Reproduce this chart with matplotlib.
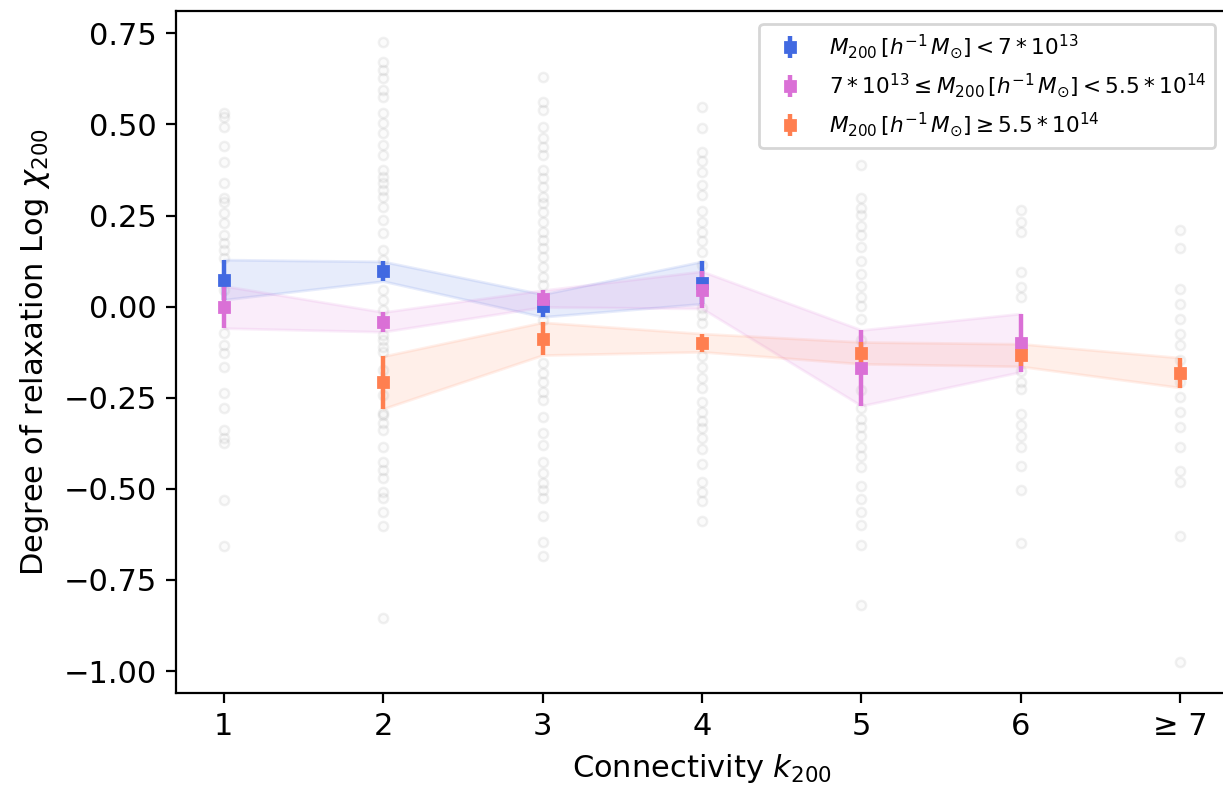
import numpy as np
import matplotlib.pyplot as plt

plt.rcParams['font.size'] = 11

# connectivity bins (last bin is k >= 7)
k_bins = [1, 2, 3, 4, 5, 6, 7]
k_labels = ['1', '2', '3', '4', '5', '6', '≥ 7']

# individual clusters, Log chi_200 per connectivity bin
chi_k1 = [0.530, 0.519, 0.494, 0.441, 0.397, 0.338, 0.297, 0.288, 0.256, 0.229,
          0.197, 0.174, 0.155, 0.133, 0.046, -0.073, -0.105, -0.128, -0.165,
          -0.238, -0.279, -0.339, -0.361, -0.373, -0.531, -0.656]
chi_k2 = [0.727, 0.672, 0.649, 0.627, 0.594, 0.576, 0.530, 0.503, 0.476, 0.443,
          0.416, 0.375, 0.356, 0.338, 0.320, 0.302, 0.274, 0.238, 0.201, 0.155,
          0.128, 0.100, 0.046, 0.018, -0.009, -0.078, -0.091, -0.110, -0.124,
          -0.174, -0.243, -0.293, -0.297, -0.320, -0.339, -0.384, -0.426,
          -0.448, -0.471, -0.508, -0.526, -0.563, -0.601, -0.855]
chi_k3 = [0.631, 0.562, 0.540, 0.494, 0.462, 0.439, 0.416, 0.375, 0.352, 0.329,
          0.302, 0.283, 0.260, 0.233, 0.206, 0.183, 0.160, 0.137, 0.110, 0.082,
          0.059, 0.018, -0.037, -0.155, -0.182, -0.206, -0.234, -0.256, -0.302,
          -0.348, -0.380, -0.426, -0.457, -0.485, -0.503, -0.526, -0.575,
          -0.645, -0.684]
chi_k4 = [0.548, 0.490, 0.424, 0.400, 0.369, 0.334, 0.306, 0.262, 0.232, 0.205,
          0.180, 0.150, 0.114, 0.046, -0.004, -0.024, -0.045, -0.136, -0.166,
          -0.196, -0.223, -0.262, -0.290, -0.314, -0.333, -0.361, -0.391,
          -0.432, -0.481, -0.509, -0.534, -0.588]
chi_k5 = [0.389, 0.298, 0.271, 0.252, 0.221, 0.196, 0.164, 0.125, 0.089, 0.057,
          0.026, 0.002, -0.034, -0.092, -0.229, -0.279, -0.309, -0.331, -0.355,
          -0.385, -0.410, -0.440, -0.492, -0.528, -0.564, -0.599, -0.654, -0.820]
chi_k6 = [0.265, 0.232, 0.205, 0.095, 0.054, 0.026, -0.177, -0.207, -0.226,
          -0.295, -0.325, -0.355, -0.385, -0.437, -0.503, -0.649]
chi_k7 = [0.210, 0.160, 0.048, 0.007, -0.034, -0.075, -0.105, -0.146, -0.207,
          -0.248, -0.289, -0.330, -0.385, -0.451, -0.481, -0.630, -0.975]
chi_all = [chi_k1, chi_k2, chi_k3, chi_k4, chi_k5, chi_k6, chi_k7]

# binned means and errors for the three mass bins
k_low = [1, 2, 3, 4]
mean_low = [0.074, 0.097, 0.003, 0.066]
err_low = [0.055, 0.027, 0.031, 0.058]

k_mid = [1, 2, 3, 4, 5, 6]
mean_mid = [-0.001, -0.042, 0.022, 0.046, -0.168, -0.099]
err_mid = [0.058, 0.027, 0.023, 0.051, 0.104, 0.080]

k_high = [2, 3, 4, 5, 6, 7]
mean_high = [-0.208, -0.088, -0.099, -0.127, -0.133, -0.181]
err_high = [0.072, 0.045, 0.025, 0.030, 0.031, 0.041]

labels = [r'$M_{200}\,[h^{-1}\,M_{\odot}] < 7*10^{13}$',
          r'$7*10^{13} \leq M_{200}\,[h^{-1}\,M_{\odot}] < 5.5*10^{14}$',
          r'$M_{200}\,[h^{-1}\,M_{\odot}] \geq 5.5*10^{14}$']
colors = ['royalblue', 'orchid', 'coral']

fig = plt.figure(figsize=(6.115, 3.955), dpi=200)
fig.subplots_adjust(left=0.1439, right=1.004, top=0.986, bottom=0.124)
ax = fig.add_subplot(111)

# faint open-ish circles for the individual clusters
for k, vals in zip(k_bins, chi_all):
    ax.scatter(np.full(len(vals), k), vals, s=11, lw=0.9,
               facecolor=(0.5, 0.5, 0.5, 0.03), edgecolor=(0.5, 0.5, 0.5, 0.11))

series = [(k_low, mean_low, err_low), (k_mid, mean_mid, err_mid),
          (k_high, mean_high, err_high)]
for (k, m, e), c, lab in zip(series, colors, labels):
    m = np.array(m)
    e = np.array(e)
    ax.fill_between(k, m - e, m + e, color=c, alpha=0.12)
    ax.errorbar(k, m, yerr=e, fmt='s', color=c, ms=3.5, elinewidth=1.6, label=lab)

ax.set_xlim(0.7, 7.3)
ax.set_ylim(-1.06, 0.811)
ax.set_xticks(k_bins)
ax.set_xticklabels(k_labels)
ax.set_xlabel(r'Connectivity $k_{200}$')
ax.set_ylabel(r'Degree of relaxation Log $\chi_{200}$')
ax.legend(loc='upper right', fontsize=7.8, borderaxespad=0.6)

plt.savefig('out.png', dpi=200)
plt.close()
